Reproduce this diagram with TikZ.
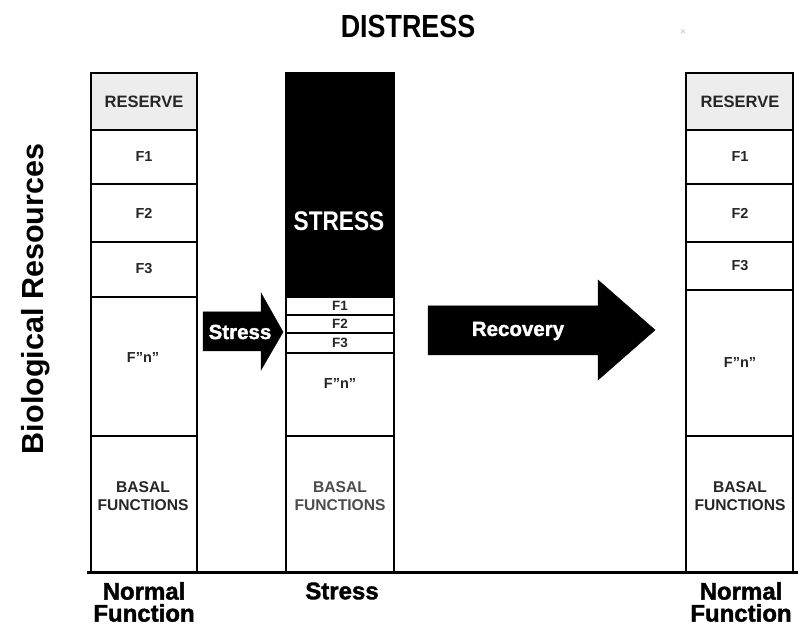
\documentclass[tikz,border=0pt]{standalone}
\usepackage{fontspec}
\setmainfont{Liberation Sans}
\newfontfamily\condfont[FakeStretch=0.84]{Liberation Sans}
\newfontfamily\heavyfont[BoldFeatures={FakeBold=1.6}]{Liberation Sans}
\newcommand\fsz[1]{\fontsize{#1}{#1}\selectfont}
\begin{document}
\begin{tikzpicture}[x=1pt,y=-1pt,
  cell/.style={draw=black, line width=1.4pt},
  resv/.style={cell, fill=gray!14},
  blk/.style={cell, fill=black},
  flbl/.style={inner sep=0, font=\bfseries\fsz{14.5}, text=black!85},
  slbl/.style={inner sep=0, font=\bfseries\fsz{13.5}, text=black!85},
  rlbl/.style={inner sep=0, font=\bfseries\fsz{16.5}, text=black!85},
  blbl/.style={inner sep=0, font=\bfseries\fsz{15.6}, text=black!85, align=center},
  botlbl/.style={inner sep=0, font=\heavyfont\bfseries\fsz{24}, align=center},
  arr/.style={fill=black, draw=black, line width=0.5pt, line join=miter},
  arrlbl/.style={inner sep=0, font=\heavyfont\bfseries\fsz{20.5}, text=white}]
\useasboundingbox (0,0) rectangle (807,628);

% title and axis label
\node[inner sep=0, font=\condfont\bfseries\fsz{32}] (title) at (408,26) {DISTRESS};
\node[inner sep=0, font=\fsz{11}, text=gray!45] (mark) at (683,32) {×};
\node[inner sep=0, rotate=90, anchor=base, font=\bfseries\fsz{30.5}] (ylab) at (43,299) {Biological Resources};

% column 1: normal function
\draw[resv] (91,73) rectangle (197,130);
\draw[cell] (91,130) rectangle (197,184);
\draw[cell] (91,184) rectangle (197,242);
\draw[cell] (91,242) rectangle (197,297);
\draw[cell] (91,297) rectangle (197,436);
\draw[cell] (91,436) rectangle (197,573);
\node[rlbl] (r1) at (144,102) {RESERVE};
\node[flbl] (a1) at (144,157) {F1};
\node[flbl] (a2) at (144,213) {F2};
\node[flbl] (a3) at (144,269) {F3};
\node[flbl] (an) at (143,358) {F”n”};
\node[blbl] (ab) at (143,496) {BASAL\\[3pt]FUNCTIONS};

% column 2: stress
\draw[blk] (286,73) rectangle (394,297);
\draw[cell] (286,297) rectangle (394,315);
\draw[cell] (286,315) rectangle (394,333);
\draw[cell] (286,333) rectangle (394,353);
\draw[cell] (286,353) rectangle (394,436);
\draw[cell] (286,436) rectangle (394,573);
\node[inner sep=0, font=\condfont\bfseries\fsz{27}, text=white] (st) at (339,221) {STRESS};
\node[slbl] (b1) at (340,306) {F1};
\node[slbl] (b2) at (340,324) {F2};
\node[slbl] (b3) at (340,343) {F3};
\node[flbl] (bn) at (340,384) {F”n”};
\node[blbl, text=black!70] (bb) at (340,496) {BASAL\\[3pt]FUNCTIONS};

% column 3: normal function after recovery
\draw[resv] (686,73) rectangle (793,130);
\draw[cell] (686,130) rectangle (793,184);
\draw[cell] (686,184) rectangle (793,242);
\draw[cell] (686,242) rectangle (793,290);
\draw[cell] (686,290) rectangle (793,436);
\draw[cell] (686,436) rectangle (793,573);
\node[rlbl] (r3) at (740,102) {RESERVE};
\node[flbl] (c1) at (740,157) {F1};
\node[flbl] (c2) at (740,213) {F2};
\node[flbl] (c3) at (740,266) {F3};
\node[flbl] (cn) at (740,363) {F”n”};
\node[blbl] (cb) at (740,496) {BASAL\\[3pt]FUNCTIONS};

% base line
\coordinate (bl) at (87,573);
\coordinate (br) at (798,573);
\draw[line width=3pt] (bl) -- (br);

% arrows
\fill[arr] (203,312) -- (261,312) -- (261,293) -- (283,332) -- (261,370) -- (261,351) -- (203,351) -- cycle;
\node[arrlbl] (sa) at (240,332) {Stress};
\fill[arr] (428,306) -- (598,306) -- (598,280) -- (655,330) -- (598,380) -- (598,355) -- (428,355) -- cycle;
\node[arrlbl] (ra) at (518,331) {Recovery};

% bottom labels
\node[botlbl] (l1) at (144,602) {Normal\\[-2pt]Function};
\node[botlbl] (l2) at (342,591) {Stress};
\node[botlbl] (l3) at (741,602) {Normal\\[-2pt]Function};
\end{tikzpicture}
\end{document}
